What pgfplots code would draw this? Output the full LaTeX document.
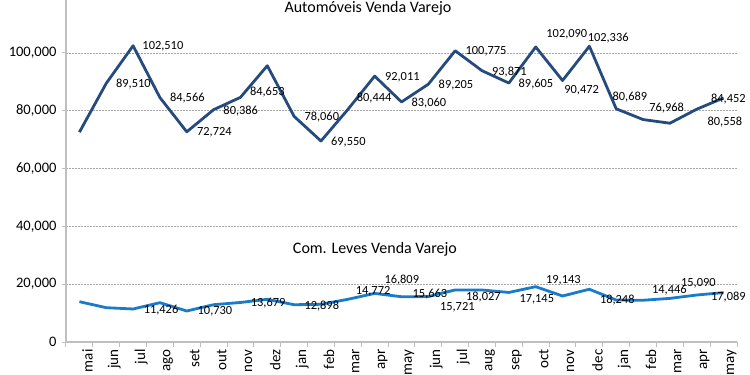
\documentclass[border=0pt]{standalone}
\usepackage{pgfplots}
\usepackage{pgfplotstable}
\pgfplotsset{compat=1.18}
\usepackage{fontspec}
\setmainfont{Carlito}
\definecolor{autoblue}{HTML}{254A7E}
\definecolor{lcvblue}{HTML}{1A7BCB}
\definecolor{axgray}{HTML}{BFBFBF}
\definecolor{gridgray}{HTML}{A6A6A6}

\pgfplotstableread{
x y
0 72600
1 89510
2 102510
3 84566
4 72724
5 80386
6 84653
7 95600
8 78060
9 69550
10 80444
11 92011
12 83060
13 89205
14 100775
15 93871
16 89605
17 102090
18 90472
19 102336
20 80689
21 76968
22 75700
23 80558
24 84452
}\autodata

\pgfplotstableread{
x y
0 13950
1 11870
2 11426
3 13600
4 10730
5 12910
6 13679
7 14770
8 12898
9 13040
10 14772
11 16809
12 15663
13 15721
14 18027
15 17990
16 17145
17 19143
18 15920
19 18248
20 14530
21 14446
22 15090
23 16260
24 17089
}\lcvdata

\pgfplotstableread{
x y label
3.11 102174 102,510
2.01 89164 89,510
4.02 84320 84,566
5.03 72418 72,724
6.01 80030 80,386
7.00 86604 84,653
9.03 77746 78,060
10.02 69304 69,550
10.98 84528 80,444
12.03 91586 92,011
13.02 82798 83,060
14.03 88922 89,205
15.15 100444 100,775
16.02 93524 93,871
17.01 89268 89,605
18.16 106464 102,090
18.71 87192 90,472
19.70 105288 102,336
20.51 84874 80,689
21.88 80860 76,968
24.18 84078 84,452
24.05 76224 80,558
}\autolabels

\pgfplotstableread{
x y label
3.04 11072 11,426
5.05 10484 10,730
7.03 13390 13,679
9.03 12560 12,898
10.94 17404 14,772
12.01 21452 16,809
13.06 16504 15,663
14.08 12006 15,721
15.05 15466 18,027
17.04 14878 17,145
18.03 21210 19,143
20.04 14532 18,248
21.98 17992 14,446
23.06 20310 15,090
24.18 15466 17,089
}\lcvlabels

\begin{document}
\begin{tikzpicture}
\path[use as bounding box, clip] (-66pt,-33pt) rectangle (684pt,342pt);
\begin{axis}[
  at={(0pt,0pt)}, anchor=south west,
  scale only axis, width=671pt, height=346.8pt,
  xmin=-0.5, xmax=24.5, ymin=0, ymax=120000,
  clip=false,
  axis x line*=bottom, axis y line*=left,
  axis line style={axgray, line width=1.5pt},
  tick align=outside,
  xtick={0,...,24},
  xticklabels={mai,jun,jul,ago,set,out,nov,dez,jan,feb,mar,apr,may,jun,jul,aug,sep,oct,nov,dec,jan,feb,mar,apr,may},
  xticklabel style={rotate=90, anchor=east, font=\fontsize{15}{17}\selectfont, yshift=-8pt},
  minor xtick={-0.5,0.5,...,24.5},
  major x tick style={draw=none},
  minor x tick style={axgray, line width=1pt},
  minor tick length=5pt,
  ytick={0,20000,40000,60000,80000,100000,120000},
  yticklabels={0,{20,000},{40,000},{60,000},{80,000},{100,000},{120,000}},
  major y tick style={axgray, line width=1pt},
  major tick length=4pt,
  scaled y ticks=false,
  yticklabel style={font=\fontsize{14.5}{16}\selectfont, text=black, xshift=-2pt},
  ymajorgrids,
  grid style={gridgray, dash pattern=on 2pt off 1pt, line width=0.6pt},
  every node near coord/.append style={anchor=center, inner sep=0pt, font=\fontsize{12.4}{14}\selectfont, text=black},
]
\addplot[autoblue, line width=2.8pt, mark=none, line join=round] table[x=x,y=y]{\autodata};
\addplot[lcvblue, line width=2.8pt, mark=none, line join=round] table[x=x,y=y]{\lcvdata};
\addplot[draw=none, mark=none, nodes near coords, point meta=explicit symbolic] table[x=x,y=y,meta=label]{\autolabels};
\addplot[draw=none, mark=none, nodes near coords, point meta=explicit symbolic] table[x=x,y=y,meta=label]{\lcvlabels};
\node[font=\fontsize{16}{19}\selectfont] at (axis cs:10.75,115564) {Automóveis Venda Varejo};
\node[font=\fontsize{16}{19}\selectfont] at (axis cs:11.01,32074) {Com. Leves Venda Varejo};
\end{axis}
\end{tikzpicture}
\end{document}
